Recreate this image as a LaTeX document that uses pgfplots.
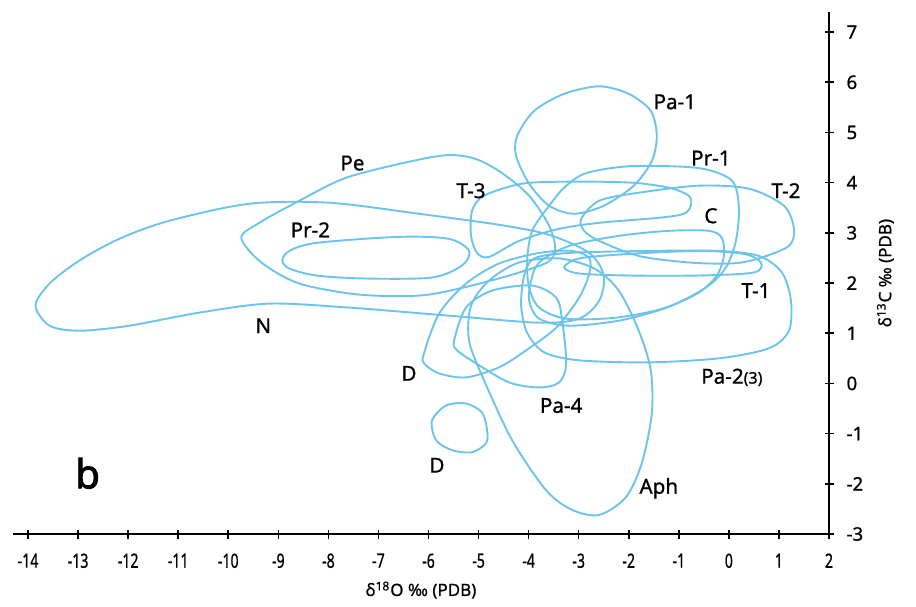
\documentclass[border=0pt]{standalone}
\usepackage{pgfplots}
\pgfplotsset{compat=1.18}
\usepackage{graphicx}
\usepackage{fontspec}
\setmainfont{Noto Sans}
\newfontfamily\medfont{Noto Sans}[FakeBold=0.9]
\newfontfamily\boldfont{Noto Sans}[FakeBold=2.2]
\definecolor{curve}{RGB}{108,196,236}
\begin{document}
\begin{tikzpicture}
\begin{axis}[
  scale only axis, width=408pt, height=261pt,
  xmin=-14.3, xmax=2, ymin=-3, ymax=7.4,
  axis x line=bottom, axis y line=right,
  axis line style={-, line width=1pt, black},
  xtick={-14,-13,...,2}, ytick={-3,-2,...,7},
  tick align=center, major tick length=4.5pt,
  tick style={black, line width=0.8pt},
  /pgf/number format/assume math mode=true,
  xticklabel={\scalebox{0.72}[1]{\pgfmathprintnumber{\tick}}},
  xticklabel style={font=\medfont\fontsize{9.8}{10}\selectfont, yshift=-4pt},
  yticklabel style={font=\medfont\fontsize{9.3}{10}\selectfont, xshift=3pt},
  xlabel={δ\textsuperscript{18}O ‰ (PDB)},
  ylabel={δ\textsuperscript{13}C ‰ (PDB)},
  label style={font=\medfont\fontsize{8.5}{10}\selectfont},
  clip=false,
  every axis plot/.append style={curve, line width=0.95pt, no marks},
]
\coordinate (LL) at (rel axis cs:0,0);
% Pa-1
\addplot[smooth cycle] coordinates {(-2.59,5.92) (-2.00,5.77) (-1.56,5.43) (-1.44,4.93) (-1.54,4.43) (-1.90,3.94) (-2.50,3.54) (-3.09,3.38) (-3.59,3.54) (-3.99,3.98) (-4.25,4.53) (-4.23,4.93) (-3.89,5.43) (-3.29,5.77)};
% Pr-1
\addplot[smooth cycle] coordinates {(-2.85,4.19) (-1.94,4.33) (-0.60,4.29) (0.06,4.04) (0.20,3.50) (0.14,2.84) (-0.06,2.31) (-0.46,1.91) (-1.26,1.51) (-2.26,1.31) (-3.25,1.29) (-3.79,1.51) (-3.99,1.91) (-4.03,2.45) (-3.93,3.04) (-3.59,3.54) (-3.29,3.90)};
% T-2
\addplot[smooth cycle] coordinates {(-2.95,3.28) (-2.59,3.64) (-1.80,3.80) (-0.60,3.94) (0.40,3.88) (1.10,3.54) (1.30,3.08) (1.20,2.74) (0.60,2.49) (0.06,2.39) (-0.80,2.41) (-1.80,2.54) (-2.59,2.84) (-2.89,3.04)};
% T-3
\addplot[smooth cycle] coordinates {(-5.13,3.44) (-4.89,3.74) (-4.13,3.98) (-3.13,4.02) (-1.94,4.00) (-1.20,3.90) (-0.80,3.74) (-0.76,3.54) (-0.90,3.38) (-1.40,3.30) (-2.59,3.20) (-3.39,3.08) (-4.19,2.84) (-4.79,2.52) (-5.03,2.60) (-5.15,2.94)};
% C
\addplot[smooth cycle] coordinates {(-3.79,2.41) (-3.19,2.74) (-2.20,2.94) (-1.20,3.04) (-0.40,3.04) (-0.14,2.90) (-0.10,2.54) (-0.24,2.15) (-0.60,1.81) (-1.30,1.49) (-2.20,1.25) (-3.19,1.15) (-3.79,1.29) (-3.99,1.65) (-3.95,2.05)};
% T-1
\addplot[smooth cycle] coordinates {(-3.29,2.31) (-2.99,2.49) (-2.00,2.58) (-0.60,2.64) (0.30,2.58) (0.64,2.41) (0.50,2.21) (-0.60,2.15) (-2.00,2.15) (-2.99,2.19)};
% Pa-2(3)
\addplot[smooth cycle] coordinates {(-4.09,2.15) (-3.89,2.49) (-3.19,2.60) (-1.60,2.64) (-0.20,2.64) (0.60,2.54) (1.06,2.21) (1.24,1.65) (1.20,1.05) (0.80,0.70) (-0.20,0.50) (-1.60,0.42) (-2.99,0.46) (-3.69,0.62) (-4.03,1.01) (-4.15,1.55)};
% Pe
\addplot[smooth cycle] coordinates {(-9.74,2.90) (-9.38,3.20) (-8.58,3.64) (-7.64,4.10) (-6.33,4.43) (-5.59,4.55) (-5.05,4.47) (-4.53,4.19) (-3.99,3.74) (-3.59,3.14) (-3.47,2.68) (-3.63,2.41) (-4.39,2.15) (-5.39,1.89) (-6.19,1.75) (-7.39,1.77) (-8.58,1.99) (-9.34,2.41)};
% Pr-2
\addplot[smooth cycle] coordinates {(-8.92,2.45) (-8.78,2.64) (-8.24,2.80) (-6.59,2.92) (-5.59,2.88) (-5.19,2.64) (-5.33,2.35) (-5.93,2.11) (-7.25,2.09) (-8.24,2.15) (-8.78,2.29)};
% N
\addplot[smooth cycle] coordinates {(-13.85,1.55) (-13.57,1.99) (-12.97,2.45) (-12.18,2.88) (-11.18,3.24) (-9.58,3.58) (-7.98,3.60) (-6.19,3.38) (-4.59,3.16) (-3.59,2.96) (-2.79,2.60) (-2.50,2.15) (-2.59,1.65) (-2.99,1.29) (-3.79,1.21) (-5.59,1.35) (-7.58,1.51) (-9.18,1.59) (-10.58,1.41) (-11.98,1.15) (-12.97,1.05) (-13.57,1.15)};
% D (upper)
\addplot[smooth cycle] coordinates {(-6.09,0.60) (-5.79,1.39) (-5.25,1.99) (-4.59,2.39) (-3.79,2.60) (-3.13,2.64) (-2.79,2.50) (-2.79,2.19) (-2.99,1.71) (-3.45,1.11) (-4.05,0.66) (-4.59,0.32) (-5.25,0.12) (-5.79,0.20) (-6.09,0.40)};
% Pa-4
\addplot[smooth cycle] coordinates {(-5.49,0.85) (-5.25,1.51) (-4.73,1.85) (-3.93,1.95) (-3.45,1.71) (-3.33,1.25) (-3.25,0.40) (-3.39,0.02) (-3.79,-0.08) (-4.39,0.02) (-5.05,0.40) (-5.43,0.66)};
% D (lower)
\addplot[smooth cycle] coordinates {(-5.93,-0.74) (-5.65,-0.44) (-5.25,-0.40) (-4.93,-0.58) (-4.83,-0.93) (-4.85,-1.19) (-5.13,-1.37) (-5.53,-1.33) (-5.85,-1.13)};
% Aph
\addplot[smooth cycle] coordinates {(-2.59,-2.62) (-2.06,-2.27) (-1.74,-1.59) (-1.54,-0.60) (-1.56,0.26) (-1.80,1.05) (-2.20,1.85) (-2.69,2.29) (-3.39,2.49) (-4.19,2.41) (-4.79,2.05) (-5.15,1.55) (-5.19,0.85) (-4.89,0.06) (-4.33,-1.13) (-3.65,-2.13) (-3.13,-2.52)};
% labels
\begin{scope}[every node/.style={font=\medfont\fontsize{10.3}{12}\selectfont, text=black}]
\node at (axis cs:-1.08,5.61) {Pa-1};
\node at (axis cs:-0.36,4.49) {Pr-1};
\node at (axis cs:-7.52,4.39) {Pe};
\node at (axis cs:-5.15,3.84) {T-3};
\node at (axis cs:1.14,3.84) {T-2};
\node at (axis cs:-0.36,3.34) {C};
\node at (axis cs:-8.36,3.06) {Pr-2};
\node at (axis cs:0.54,1.85) {T-1};
\node at (axis cs:-9.30,1.15) {N};
\node at (axis cs:-6.39,0.20) {D};
\node at (axis cs:0.06,0.12) {Pa-2{\fontsize{8}{9}\selectfont(3)}};
\node at (axis cs:-3.35,-0.44) {Pa-4};
\node at (axis cs:-5.83,-1.63) {D};
\node at (axis cs:-1.40,-2.09) {Aph};
\end{scope}
\node[font=\boldfont\fontsize{20}{24}\selectfont, text=black] at (axis cs:-12.81,-1.79) {b};
\end{axis}
\pgfresetboundingbox
\path[use as bounding box] (LL) ++(-6.5pt,-36pt) rectangle ++(458pt,303pt);
\end{tikzpicture}
\end{document}
